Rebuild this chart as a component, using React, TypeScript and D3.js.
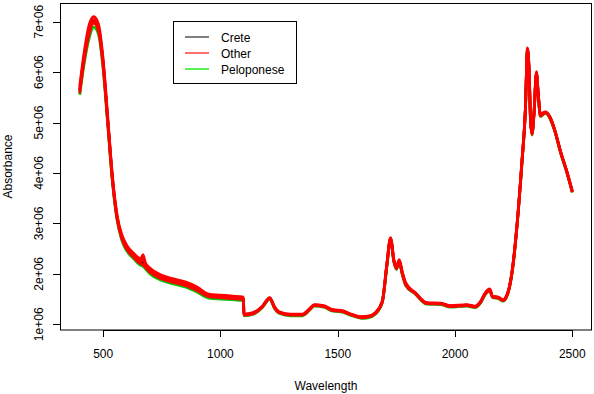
import React from 'react';
import * as d3 from 'd3';

// wavelength grid (nm)
const wavelengths = [400,420,440,460,480,500,520,540,560,580,
  600,630,660,670,680,700,750,800,850,900,
  950,1000,1050,1098,1100,1140,1180,1210,1230,1250,
  1300,1350,1380,1400,1440,1480,1520,1560,1600,1630,
  1660,1690,1710,1725,1740,1750,1762,1775,1790,1830,
  1880,1940,1980,2050,2085,2110,2130,2148,2160,2185,
  2205,2225,2245,2265,2285,2300,2309,2316,2322,2328,
  2337,2347,2355,2364,2385,2405,2425,2450,2475,2500];

// absorbance, in millions
const creteValues = [5.63,6.33,6.83,7.03,6.87,6.16,5.01,3.86,3.10,2.72,
  2.52,2.36,2.23,2.21,2.16,2.06,1.93,1.86,1.80,1.70,
  1.57,1.55,1.53,1.51,1.19,1.22,1.36,1.52,1.34,1.24,
  1.19,1.19,1.30,1.38,1.36,1.28,1.26,1.19,1.14,1.15,
  1.22,1.45,2.20,2.70,2.25,2.12,2.26,2.02,1.80,1.62,
  1.42,1.41,1.36,1.38,1.35,1.45,1.62,1.68,1.55,1.53,
  1.48,1.62,2.10,3.00,4.20,5.25,6.45,6.00,5.05,4.78,
  5.20,5.98,5.55,5.15,5.20,5.10,4.85,4.42,4.05,3.63];

const otherHigh = [5.72,6.42,6.93,7.10,6.95,6.25,5.08,3.92,3.15,2.77,
  2.57,2.41,2.30,2.38,2.22,2.11,1.97,1.90,1.84,1.74,
  1.60,1.58,1.56,1.54,1.20,1.23,1.37,1.53,1.35,1.25,
  1.20,1.20,1.31,1.39,1.37,1.29,1.27,1.20,1.15,1.16,
  1.23,1.46,2.22,2.72,2.27,2.14,2.28,2.04,1.82,1.63,
  1.43,1.42,1.37,1.39,1.36,1.46,1.63,1.70,1.56,1.54,
  1.49,1.63,2.12,3.02,4.22,5.27,6.48,6.04,5.08,4.80,
  5.22,6.01,5.58,5.17,5.21,5.11,4.86,4.43,4.06,3.64];

const otherMid = [5.65,6.34,6.84,7.04,6.88,6.18,5.02,3.87,3.11,2.73,
  2.53,2.37,2.25,2.30,2.17,2.07,1.94,1.87,1.81,1.71,
  1.58,1.56,1.54,1.52,1.19,1.22,1.36,1.52,1.34,1.24,
  1.19,1.19,1.30,1.38,1.36,1.28,1.26,1.19,1.14,1.15,
  1.22,1.45,2.20,2.70,2.25,2.12,2.26,2.02,1.80,1.62,
  1.42,1.41,1.36,1.38,1.35,1.45,1.62,1.69,1.55,1.53,
  1.48,1.62,2.10,3.00,4.20,5.25,6.45,6.01,5.06,4.78,
  5.20,5.98,5.55,5.15,5.20,5.10,4.85,4.42,4.05,3.63];

const otherLow = [5.58,6.26,6.75,6.97,6.81,6.11,4.97,3.83,3.07,2.69,
  2.49,2.33,2.20,2.18,2.13,2.03,1.90,1.83,1.77,1.67,
  1.55,1.53,1.51,1.49,1.18,1.21,1.35,1.51,1.33,1.23,
  1.18,1.18,1.29,1.37,1.35,1.27,1.25,1.18,1.13,1.14,
  1.21,1.44,2.18,2.68,2.23,2.10,2.24,2.00,1.78,1.61,
  1.41,1.40,1.35,1.37,1.34,1.44,1.61,1.67,1.54,1.52,
  1.47,1.61,2.08,2.98,4.18,5.23,6.42,5.97,5.03,4.76,
  5.18,5.95,5.52,5.13,5.19,5.09,4.84,4.41,4.04,3.62];

const peloponeseValues = [5.55,6.20,6.67,6.89,6.75,6.06,4.93,3.80,3.05,2.66,
  2.46,2.30,2.17,2.15,2.10,2.00,1.87,1.80,1.74,1.64,
  1.52,1.50,1.49,1.47,1.17,1.20,1.34,1.50,1.32,1.22,
  1.17,1.17,1.28,1.36,1.34,1.26,1.24,1.17,1.12,1.13,
  1.20,1.43,2.17,2.67,2.22,2.09,2.23,1.99,1.77,1.60,
  1.40,1.39,1.34,1.36,1.33,1.43,1.60,1.66,1.53,1.51,
  1.46,1.60,2.07,2.97,4.17,5.22,6.41,5.96,5.02,4.75,
  5.17,5.94,5.51,5.12,5.18,5.08,4.83,4.40,4.03,3.61];

const xTicks = [500, 1000, 1500, 2000, 2500];
const yTicks = [1e6, 2e6, 3e6, 4e6, 5e6, 6e6, 7e6];
const yTickLabels = ['1e+06', '2e+06', '3e+06', '4e+06', '5e+06', '6e+06', '7e+06'];

const legendNames = ['Crete', 'Other', 'Peloponese'];
const legendColors = ['#555555', '#ff4040', '#22ee22'];

const W = 594, H = 394;
const font = '"Liberation Sans", Arial, sans-serif';

export default function App() {
  const x = d3.scaleLinear().domain([316, 2584]).range([60, 592]);
  const y = d3.scaleLinear().domain([0.887e6, 7.37e6]).range([330, 3]);

  const line = d3.line<number>()
    .x((_, i) => x(wavelengths[i]))
    .y(d => y(d * 1e6))
    .curve(d3.curveMonotoneX);

  const series = [
    { vals: creteValues, color: '#000000' },
    { vals: peloponeseValues, color: '#00c800' },
    { vals: otherLow, color: '#ff0000' },
    { vals: otherMid, color: '#ff0000' },
    { vals: otherHigh, color: '#ff0000' },
  ];

  const [x0, x1] = x.range();
  const [yb, yt] = y.range();

  return (
    <svg width={W} height={H} style={{ position: 'absolute', left: 0, top: 0, background: '#fff' }}
      fontFamily={font}>
      <rect x={0} y={0} width={W} height={H} fill="#fff" />
      <defs>
        <clipPath id="plot">
          <rect x={x0} y={yt} width={x1 - x0} height={yb - yt} />
        </clipPath>
      </defs>
      <g clipPath="url(#plot)">
        {series.map((s, i) => (
          <path key={i} d={line(s.vals) || ''} fill="none" stroke={s.color}
            strokeWidth={2.8} strokeLinejoin="round" />
        ))}
      </g>

      {/* box */}
      <rect x={x0 + 0.5} y={yt + 0.5} width={x1 - x0 - 1} height={yb - yt - 0.5}
        fill="none" stroke="#000" strokeWidth={1} />

      {/* x axis */}
      <line x1={x(xTicks[0])} x2={x(xTicks[xTicks.length - 1])} y1={yb + 0.5} y2={yb + 0.5} stroke="#000" />
      {xTicks.map(t => (
        <g key={t}>
          <line x1={Math.round(x(t)) + 0.5} x2={Math.round(x(t)) + 0.5} y1={yb} y2={yb + 7} stroke="#000" />
          <text x={x(t)} y={358} textAnchor="middle" fontSize={12}>{t}</text>
        </g>
      ))}
      <text x={(x0 + x1) / 2} y={390} textAnchor="middle" fontSize={12}>Wavelength</text>

      {/* y axis */}
      {yTicks.map((t, i) => (
        <g key={t}>
          <line x1={x0 - 7} x2={x0} y1={Math.round(y(t)) + 0.5} y2={Math.round(y(t)) + 0.5} stroke="#000" />
          <text transform={`translate(42.5,${y(t)}) rotate(-90)`} textAnchor="middle" fontSize={12}>
            {yTickLabels[i]}
          </text>
        </g>
      ))}
      <text transform={`translate(12,${(yt + yb) / 2}) rotate(-90)`} textAnchor="middle" fontSize={12}>Absorbance</text>

      {/* legend */}
      <rect x={173.5} y={21.5} width={123} height={62} fill="#fff" stroke="#000" />
      {legendNames.map((n, i) => (
        <g key={n}>
          <line x1={185} x2={209} y1={37 + i * 16} y2={37 + i * 16} stroke={legendColors[i]} strokeWidth={1.5} />
          <text x={221} y={41.5 + i * 16} fontSize={12}>{n}</text>
        </g>
      ))}
    </svg>
  );
}
